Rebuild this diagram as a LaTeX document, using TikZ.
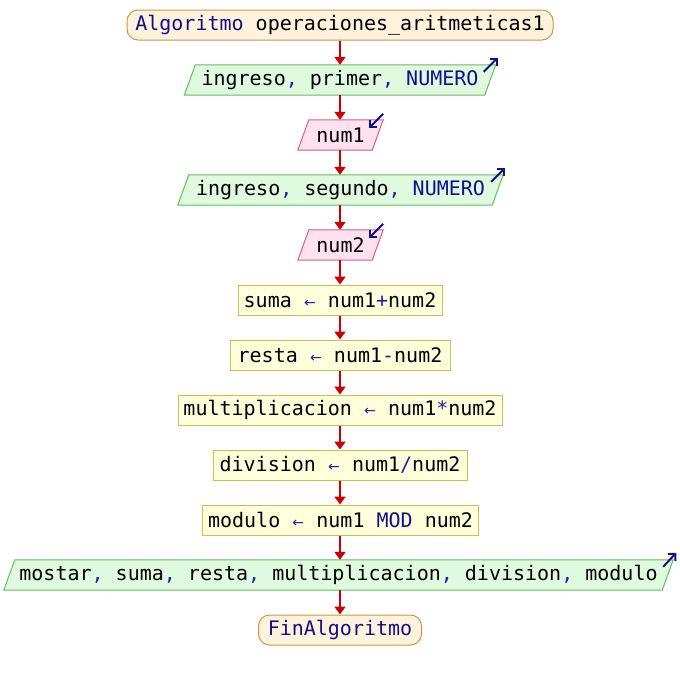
\documentclass[tikz,border=0pt]{standalone}
\usepackage{fontspec}
\setmonofont{DejaVu Sans Mono}
\newfontfamily\arrowfont{DejaVu Sans}
\usetikzlibrary{arrows.meta,backgrounds}

\definecolor{kwblue}{RGB}{16,16,140}
\definecolor{opblue}{RGB}{30,30,170}
\definecolor{flowred}{RGB}{204,0,0}
\definecolor{termfill}{RGB}{255,243,220}
\definecolor{termline}{RGB}{200,150,80}
\definecolor{procfill}{RGB}{255,255,220}
\definecolor{procline}{RGB}{200,192,80}
\definecolor{outfill}{RGB}{224,250,224}
\definecolor{outline}{RGB}{96,192,96}
\definecolor{infill}{RGB}{255,226,238}
\definecolor{inline}{RGB}{208,96,140}

% keyword, operator and assignment-arrow helpers
\newcommand\kw[1]{\textcolor{kwblue}{#1}}
\newcommand\op[1]{\textcolor{opblue}{#1}}
\newcommand\cm{\textcolor{opblue}{,}}
\newcommand\asg{\makebox[12.04pt]{\textcolor{opblue}{\arrowfont\fontsize{14}{14}\selectfont ←}}}

% parallelogram outline around a named (undrawn) node
\newcommand\parashape[2]{%
  \path[#2] ([xshift=-5.5pt]#1.south west) -- ([xshift=-5.5pt]#1.south east)
    -- ([xshift=5.5pt]#1.north east) -- ([xshift=5.5pt]#1.north west) -- cycle;}

\begin{document}
\begin{tikzpicture}[x=1pt,y=-1pt,
  box/.style={inner sep=0pt, minimum height=30pt, text=black,
    font=\ttfamily\fontsize{20}{24}\selectfont},
  term/.style={box, draw=termline, fill=termfill, line width=1pt, rounded corners=11pt},
  proc/.style={box, draw=procline, fill=procfill, line width=1pt},
  slot/.style={box},
  outpara/.style={draw=outline, fill=outfill, line width=1pt},
  inpara/.style={draw=inline, fill=infill, line width=1pt},
  flow/.style={draw=flowred, line width=2pt, -{Triangle[width=11pt,length=8pt]}},
  ioarrow/.style={draw=kwblue, line width=2pt, -{Straight Barb[length=5pt,width=10pt]}}
]
\useasboundingbox (0,0) rectangle (680,680);

% nodes
\node[term, minimum width=426pt] (start) at (340,25) {\kw{Algoritmo} operaciones\_aritmeticas1};
\node[slot, minimum width=300pt] (in1) at (340,80) {ingreso\cm{} primer\cm{} \kw{NUMERO}};
\node[slot, minimum width=74pt] (n1) at (340.5,135) {num1};
\node[slot, minimum width=314pt] (in2) at (340.5,190) {ingreso\cm{} segundo\cm{} \kw{NUMERO}};
\node[slot, minimum width=74pt] (n2) at (340.5,245) {num2};
\node[proc, minimum width=204pt] (suma) at (340,300) {suma \asg{} num1\op{+}num2};
\node[proc, minimum width=220pt] (resta) at (340,355) {resta \asg{} num1\op{-}num2};
\node[proc, minimum width=324pt] (mult) at (340,410) {multiplicacion \asg{} num1\op{*}num2};
\node[proc, minimum width=254pt] (div) at (340,465) {division \asg{} num1\op{/}num2};
\node[proc, minimum width=276pt] (mod) at (340.5,520) {modulo \asg{} num1 \kw{MOD} num2};
\node[slot, minimum width=658pt] (out) at (338.5,575) {mostar\cm{} suma\cm{} resta\cm{} multiplicacion\cm{} division\cm{} modulo};
\node[term, minimum width=163pt] (fin) at (340,630) {\kw{FinAlgoritmo}};

% parallelogram bodies behind the text
\begin{scope}[on background layer]
  \parashape{in1}{outpara}
  \parashape{in2}{outpara}
  \parashape{out}{outpara}
  \parashape{n1}{inpara}
  \parashape{n2}{inpara}
\end{scope}

% read / write markers
\draw[ioarrow] ([xshift=-6.5pt,yshift=-7pt]in1.north east) -- ([xshift=7.5pt,yshift=7pt]in1.north east);
\draw[ioarrow] ([xshift=-6.5pt,yshift=-7pt]in2.north east) -- ([xshift=7.5pt,yshift=7pt]in2.north east);
\draw[ioarrow] ([xshift=-4.5pt,yshift=-7pt]out.north east) -- ([xshift=8.5pt,yshift=7pt]out.north east);
\draw[ioarrow] ([xshift=5.5pt,yshift=6pt]n1.north east) -- ([xshift=-8.5pt,yshift=-8pt]n1.north east);
\draw[ioarrow] ([xshift=5.5pt,yshift=6pt]n2.north east) -- ([xshift=-8.5pt,yshift=-8pt]n2.north east);

% flow connectors
\foreach \a/\b in {start/in1, in1/n1, n1/in2, in2/n2, n2/suma, suma/resta,
                   resta/mult, mult/div, div/mod, mod/out, out/fin}
  \draw[flow] (\a.south -| 340,0) -- (\b.north -| 340,0);
\end{tikzpicture}
\end{document}
